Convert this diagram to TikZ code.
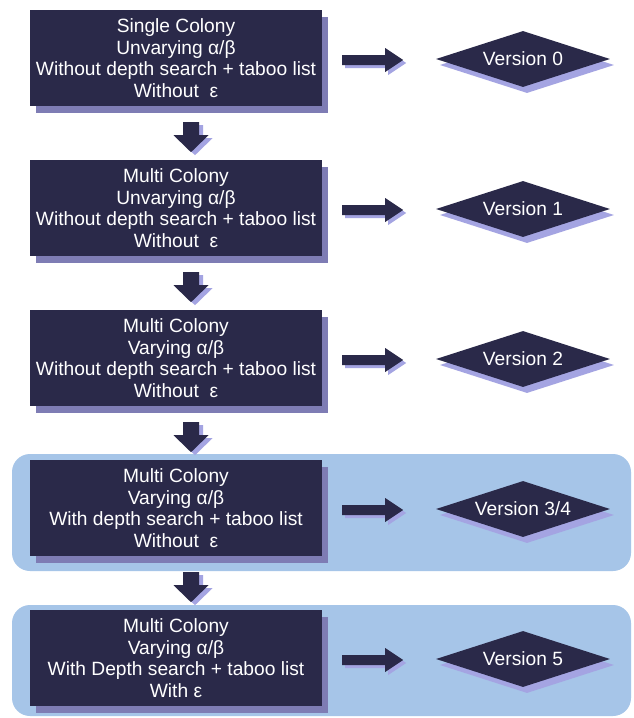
\documentclass[tikz,border=0pt]{standalone}
\usepackage{fontspec}
\setmainfont{Liberation Sans}
\usetikzlibrary{shapes.geometric,shadows}
\definecolor{navy}{HTML}{2A2949}
\definecolor{boxshade}{HTML}{7E7CB4}
\definecolor{lav}{HTML}{A4A4E2}
\definecolor{panelblue}{HTML}{A6C5E8}
\begin{document}
\begin{tikzpicture}[x=1pt,y=-1pt,
  txt/.style={text=white, font=\fontsize{19.2}{21.5}\selectfont},
  stepbox/.style={txt, rectangle, fill=navy, minimum width=292pt, minimum height=96pt,
    inner sep=0pt, align=center,
    general shadow={fill=boxshade, shadow xshift=6pt, shadow yshift=-7pt}},
  version/.style={txt, diamond, fill=navy, minimum width=174pt, minimum height=56pt,
    inner sep=0pt, aspect=3.1,
    general shadow={fill=lav, shadow xshift=4pt, shadow yshift=-6pt}},
  panel/.style={fill=panelblue, rounded corners=18pt},
  rarr/.pic={
    \fill[lav] (3,-2) -- (46,-2) -- (46,-9) -- (64,3) -- (46,15) -- (46,8) -- (3,8) -- cycle;
    \fill[navy] (0,-5) -- (43,-5) -- (43,-12) -- (61,0) -- (43,12) -- (43,5) -- (0,5) -- cycle;},
  darr/.pic={
    \fill[lav] (-4,3) -- (12,3) -- (12,16) -- (21.5,16) -- (4,33) -- (-13.5,16) -- (-4,16) -- cycle;
    \fill[navy] (-8,0) -- (8,0) -- (8,13) -- (17.5,13) -- (0,30) -- (-17.5,13) -- (-8,13) -- cycle;}
]
\useasboundingbox (0,0) rectangle (633,718);
\fill[white] (0,0) rectangle (633,718);
\fill[panel] (12,454) rectangle (631,571);
\fill[panel] (12,605) rectangle (631,716);

\node[stepbox] (b1) at (176,58) {Single Colony\\Unvarying α/β\\Without depth search + taboo list\\Without\ \ ε};
\node[stepbox] (b2) at (176,208) {Multi Colony\\Unvarying α/β\\Without depth search + taboo list\\Without\ \ ε};
\node[stepbox] (b3) at (176,358) {Multi Colony\\Varying α/β\\Without depth search + taboo list\\Without\ \ ε};
\node[stepbox] (b4) at (176,508) {Multi Colony\\Varying α/β\\With depth search + taboo list\\Without\ \ ε};
\node[stepbox] (b5) at (176,658) {Multi Colony\\Varying α/β\\With Depth search + taboo list\\With ε};

\node[version] (v1) at (523,59) {Version 0};
\node[version] (v2) at (523,209) {Version 1};
\node[version] (v3) at (523,359) {Version 2};
\node[version] (v4) at (523,509) {Version 3/4};
\node[version] (v5) at (523,659) {Version 5};

\foreach \b in {b1,b2,b3,b4,b5}
  \pic at ([xshift=20pt,yshift=-2pt]\b.east) {rarr};
\foreach \b in {b1,b2,b3,b4}
  \pic at ([xshift=15pt,yshift=-16pt]\b.south) {darr};
\end{tikzpicture}
\end{document}
